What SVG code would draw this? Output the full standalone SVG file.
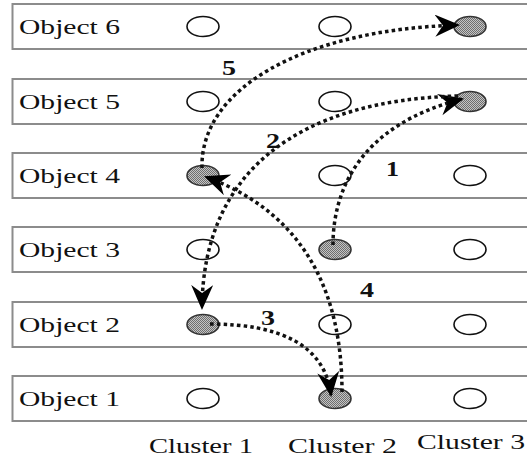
<svg xmlns="http://www.w3.org/2000/svg" width="527" height="459" viewBox="0 0 527 459">
<defs>
<style>
.row{fill:#ffffff;stroke:#8c8c8c;stroke-width:2}
.lbl{font-family:"Liberation Serif","Times New Roman",serif;font-size:22px;fill:#111}
.clu{font-family:"Liberation Serif","Times New Roman",serif;font-size:21px;fill:#111}
.num{font-family:"Liberation Serif","Times New Roman",serif;font-size:20px;font-weight:bold;fill:#111}
.open{fill:#ffffff;stroke:#111;stroke-width:1.6}
.full{fill:url(#stip);stroke:#333;stroke-width:1.6}
.con{fill:none;stroke:#111;stroke-width:3.5;stroke-dasharray:3.5 3.2;marker-end:url(#ah)}
</style>
<pattern id="stip" width="2" height="2" patternUnits="userSpaceOnUse">
<rect width="2" height="2" fill="#c4c4c4"/>
<rect width="1" height="1" fill="#6e6e6e"/>
<rect x="1" y="1" width="1" height="1" fill="#6e6e6e"/>
</pattern>
<marker id="ah" markerUnits="userSpaceOnUse" markerWidth="28" markerHeight="24" refX="23" refY="11" orient="auto">
<path d="M0,0 L25,11 L0,22 L8,11 Z" fill="#000"/>
</marker>
</defs>
<rect width="527" height="459" fill="#ffffff"/>

<g id="row6"><rect class="row" x="12.5" y="4" width="530" height="45"/><text class="lbl" x="19" y="34" textLength="101" lengthAdjust="spacingAndGlyphs">Object 6</text>
<ellipse class="open" cx="203" cy="26.5" rx="16" ry="10"/><ellipse class="open" cx="335" cy="26.5" rx="16" ry="10"/><ellipse class="full" cx="470" cy="26.5" rx="16" ry="10"/></g>
<g id="row5"><rect class="row" x="12.5" y="79" width="530" height="45"/><text class="lbl" x="19" y="109" textLength="101" lengthAdjust="spacingAndGlyphs">Object 5</text>
<ellipse class="open" cx="203" cy="101.5" rx="16" ry="10"/><ellipse class="open" cx="335" cy="101.5" rx="16" ry="10"/><ellipse class="full" cx="470" cy="101.5" rx="16" ry="10"/></g>
<g id="row4"><rect class="row" x="12.5" y="153" width="530" height="45"/><text class="lbl" x="19" y="183" textLength="101" lengthAdjust="spacingAndGlyphs">Object 4</text>
<ellipse class="full" cx="203" cy="175.5" rx="16" ry="10"/><ellipse class="open" cx="335" cy="175.5" rx="16" ry="10"/><ellipse class="open" cx="470" cy="175.5" rx="16" ry="10"/></g>
<g id="row3"><rect class="row" x="12.5" y="227" width="530" height="45"/><text class="lbl" x="19" y="257" textLength="101" lengthAdjust="spacingAndGlyphs">Object 3</text>
<ellipse class="open" cx="203" cy="249.5" rx="16" ry="10"/><ellipse class="full" cx="335" cy="249.5" rx="16" ry="10"/><ellipse class="open" cx="470" cy="249.5" rx="16" ry="10"/></g>
<g id="row2"><rect class="row" x="12.5" y="302" width="530" height="45"/><text class="lbl" x="19" y="332" textLength="101" lengthAdjust="spacingAndGlyphs">Object 2</text>
<ellipse class="full" cx="203" cy="324.5" rx="16" ry="10"/><ellipse class="open" cx="335" cy="324.5" rx="16" ry="10"/><ellipse class="open" cx="470" cy="324.5" rx="16" ry="10"/></g>
<g id="row1"><rect class="row" x="12.5" y="376" width="530" height="45"/><text class="lbl" x="19" y="406" textLength="101" lengthAdjust="spacingAndGlyphs">Object 1</text>
<ellipse class="open" cx="203" cy="398.5" rx="16" ry="10"/><ellipse class="full" cx="335" cy="398.5" rx="16" ry="10"/><ellipse class="open" cx="470" cy="398.5" rx="16" ry="10"/></g>

<g id="clusters">
<text class="clu" x="149" y="453" textLength="104" lengthAdjust="spacingAndGlyphs">Cluster 1</text>
<text class="clu" x="288" y="453" textLength="109" lengthAdjust="spacingAndGlyphs">Cluster 2</text>
<text class="clu" x="417" y="449" textLength="108" lengthAdjust="spacingAndGlyphs">Cluster 3</text>
</g>

<g id="connectors">
<path class="con" d="M333 245 C333 190, 360 125, 462 99"/>
<path class="con" d="M458 96 C300 100, 203 170, 202 308"/>
<path class="con" d="M210 324 C280 324, 325 345, 331 395"/>
<path class="con" d="M342 392 C342 300, 310 215, 206 177"/>
<path class="con" d="M202 168 C200 90, 300 30, 458 25"/>
</g>

<g id="labels">
<text class="num" x="222" y="75" textLength="14" lengthAdjust="spacingAndGlyphs">5</text>
<text class="num" x="266" y="148" textLength="14" lengthAdjust="spacingAndGlyphs">2</text>
<text class="num" x="386" y="176" textLength="13" lengthAdjust="spacingAndGlyphs">1</text>
<text class="num" x="360" y="297" textLength="14" lengthAdjust="spacingAndGlyphs">4</text>
<text class="num" x="261" y="325" textLength="14" lengthAdjust="spacingAndGlyphs">3</text>
</g>
</svg>
